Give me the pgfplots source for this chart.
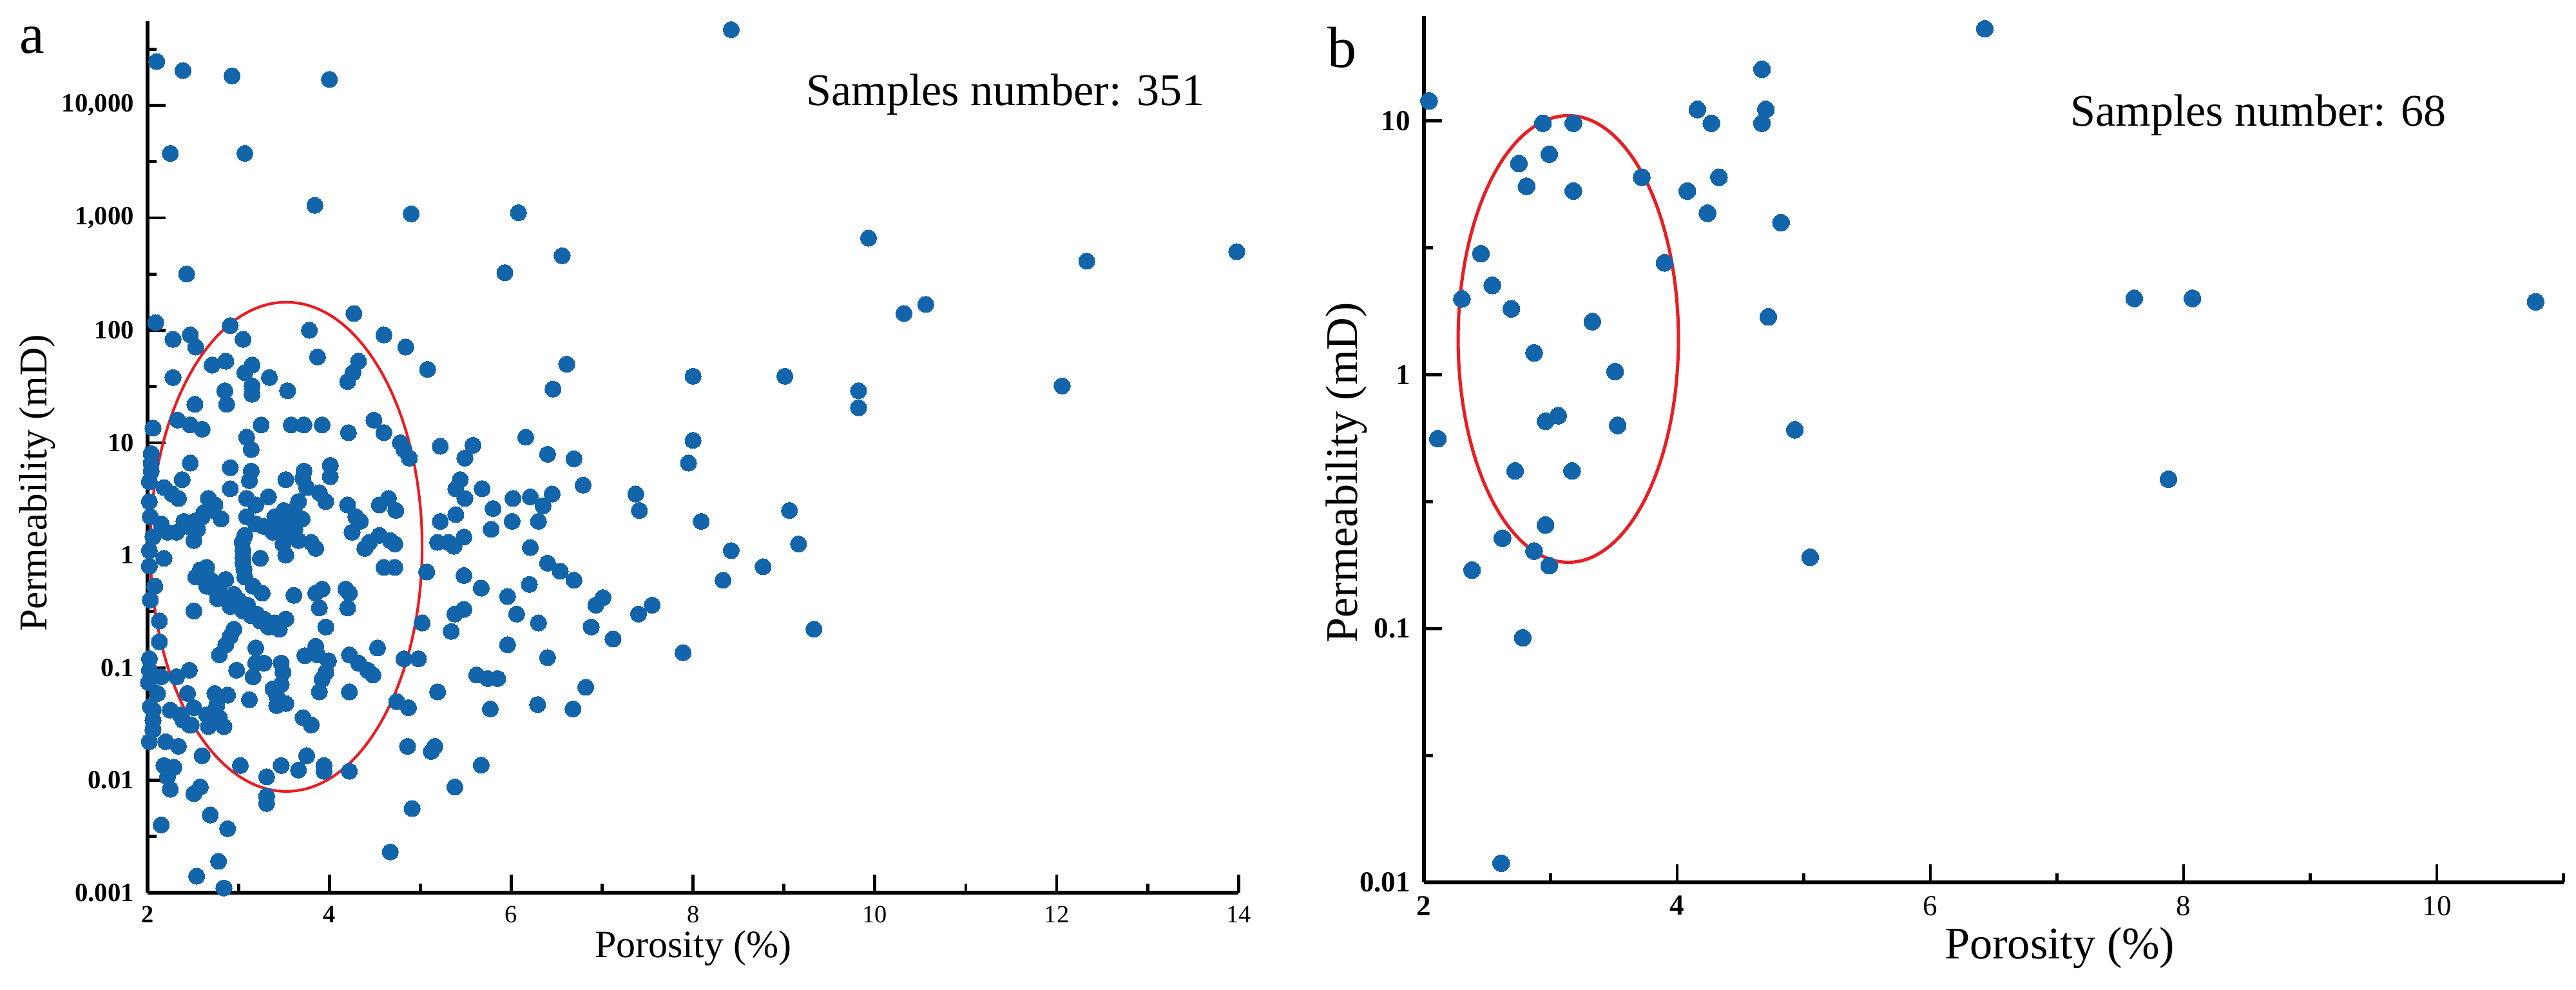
\documentclass[border=0pt]{standalone}
\usepackage{pgfplots}
\pgfplotsset{compat=1.18}
\usepackage{fontspec}
\setmainfont{Liberation Serif}
\usetikzlibrary{calc}

\definecolor{dotblue}{RGB}{18,101,170}
\definecolor{ringred}{RGB}{232,30,37}

\begin{document}
\begin{tikzpicture}
\path[use as bounding box] (0,0) rectangle (666.33pt,256pt);

% ---- panel a ----
\begin{axis}[
  scale only axis,
  ymode=log,
  axis lines*=left,
  tick align=inside,
  axis line style={line width=0.9pt,black},
  every tick/.style={line width=0.8pt,black},
  major tick length=4.6pt,
  minor tick length=2.3pt,
  clip=false,
  at={(38.17pt,25.17pt)}, anchor=south west,
  width=282.2pt, height=225.3pt,
  xmin=2, xmax=14, ymin=0.001, ymax=55800,
  xtick={2,4,...,14},
  xticklabels={\textbf{2},\textbf{4},6,8,10,12,14},
  minor xtick={3,5,...,13},
  ytick={0.001,0.01,0.1,1,10,100,1000,10000},
  yticklabels={0.001,0.01,0.1,1,10,100,{1,000},{10,000}},
  minor ytick={0.00316,0.0316,0.316,3.16,31.6,316,3162,31623},
  xticklabel style={font=\fontsize{6.4}{7}\selectfont},
  yticklabel style={font=\fontsize{6.8}{7}\selectfont\bfseries},
  xlabel={Porosity (\%)},
  ylabel={Permeability (mD)},
  xlabel style={at={(rel axis cs:0.5,-0.0636)},anchor=center,font=\fontsize{10}{12}\selectfont},
  ylabel style={at={(rel axis cs:-0.101,0.47)},anchor=center,font=\fontsize{10.2}{12}\selectfont},
]
\addplot[only marks, color=dotblue, mark=*, mark size=2.1pt, mark options={draw=dotblue,fill=dotblue,line width=0pt}] table {
x y
2.10 24500
2.39 20400
2.93 18300
4.00 17000
2.25 3740
3.07 3740
3.84 1290
4.90 1085
2.43 316
2.09 117
4.27 141
2.91 110
3.78 100
2.28 83
2.47 91
2.53 71
3.05 83
4.60 91
4.84 71
5.08 45
3.87 58
4.32 53
4.26 42
4.20 35
2.71 49
2.86 53
2.28 38
3.07 42
3.15 49
3.34 38
3.15 32
3.15 27
3.54 29
2.85 29
2.87 22
2.52 22
8.42 47000
6.08 1110
6.56 460
5.93 325
6.61 50
6.46 30
8.00 39
9.01 39
8.00 10.5
7.95 6.6
6.16 11.2
5.58 9.5
5.49 7.3
6.40 7.9
6.69 7.2
5.44 4.7
5.39 3.9
5.49 3.2
5.68 3.9
6.02 3.2
6.21 3.3
6.45 3.5
6.79 4.2
6.35 2.75
6.30 2.0
5.80 2.6
6.01 2.0
5.78 1.7
5.48 1.45
5.39 2.3
7.37 3.5
7.41 2.5
8.09 2.0
9.06 2.5
9.16 1.26
6.21 1.17
8.42 1.1
5.37 1.2
6.40 0.85
6.54 0.72
6.69 0.6
5.48 0.66
5.67 0.51
6.20 0.55
5.96 0.43
5.38 0.30
5.48 0.33
6.06 0.30
6.30 0.25
5.34 0.21
5.96 0.16
6.40 0.123
6.88 0.23
6.93 0.36
7.01 0.42
7.12 0.18
7.40 0.30
7.55 0.36
7.89 0.136
8.33 0.6
8.77 0.79
5.62 0.086
5.74 0.080
5.85 0.080
5.77 0.043
6.29 0.047
6.68 0.043
6.82 0.067
5.67 0.0136
5.38 0.0087
9.93 660
12.33 412
13.98 500
10.32 141
10.56 170
9.82 29
9.82 20.5
12.06 32
9.33 0.22
2.06 13.5
2.33 15.9
2.47 14.4
2.60 13.2
3.25 14.4
3.58 14.4
3.72 14.4
3.92 14.4
4.21 12.3
4.49 15.9
4.60 12.3
4.78 10
4.82 8.7
4.88 7.3
5.22 9.3
3.09 11.2
3.14 8.7
2.47 6.6
2.91 6.0
3.14 5.6
3.72 5.6
4.01 6.3
4.01 5.0
3.52 4.7
2.38 4.7
2.04 8.0
2.04 6.6
2.04 5.6
2.18 4.0
2.27 3.5
2.34 3.2
2.91 3.9
3.12 4.6
3.33 3.3
3.71 4.8
3.75 4.0
3.89 3.6
3.96 3.0
2.67 3.2
2.74 2.8
4.20 2.8
4.29 2.2
4.34 2.0
4.55 2.8
4.65 3.2
4.73 2.5
5.22 2.0
4.25 1.6
2.15 1.9
2.22 1.6
2.32 1.6
2.51 2.0
2.60 2.2
2.72 2.5
2.81 2.1
2.51 1.35
2.44 1.8
3.09 3.2
3.19 2.8
3.09 2.2
3.19 1.9
3.07 1.5
3.28 1.8
3.38 1.7
3.47 1.8
3.59 2.0
3.61 2.5
3.66 3.0
3.56 1.5
3.66 1.35
3.80 1.3
4.44 1.3
4.55 1.5
4.67 1.35
5.19 1.3
5.31 1.3
2.06 1.46
2.18 0.94
2.58 0.74
2.53 0.64
2.65 0.78
2.65 0.53
2.74 0.50
2.86 0.61
3.05 1.1
3.05 0.85
3.07 0.64
3.16 0.53
3.24 0.94
3.26 0.46
3.38 1.6
3.49 1.26
3.52 1.0
3.61 0.44
3.85 1.15
3.85 0.46
3.92 0.50
3.89 0.34
3.52 0.27
4.18 0.50
4.22 0.46
4.20 0.34
3.96 0.23
4.39 1.15
4.72 1.26
4.60 0.78
4.72 0.78
5.07 0.71
5.02 0.25
2.51 0.32
2.08 0.53
2.13 0.26
2.13 0.17
2.86 0.41
2.77 0.41
2.91 0.35
3.05 0.32
3.14 0.29
3.24 0.26
3.33 0.23
2.95 0.22
2.91 0.19
2.86 0.16
2.79 0.13
3.19 0.15
3.19 0.11
3.28 0.11
3.16 0.083
2.98 0.095
3.47 0.11
3.49 0.091
3.47 0.071
3.38 0.065
3.42 0.056
3.42 0.046
3.52 0.048
3.12 0.052
3.73 0.128
3.85 0.155
3.87 0.13
3.99 0.115
3.96 0.091
3.92 0.079
3.89 0.061
4.22 0.061
4.22 0.13
4.32 0.11
4.42 0.095
4.48 0.086
4.53 0.15
4.82 0.12
4.98 0.12
4.74 0.05
4.87 0.044
5.19 0.061
3.71 0.036
3.80 0.031
2.01 0.074
2.15 0.083
2.32 0.083
2.46 0.095
2.44 0.059
2.51 0.044
2.39 0.034
2.48 0.031
2.74 0.059
2.88 0.057
2.76 0.046
2.67 0.030
2.84 0.030
2.79 0.036
2.06 0.034
2.06 0.028
2.20 0.022
2.34 0.020
2.60 0.0165
2.18 0.0135
2.29 0.013
2.22 0.0107
2.25 0.0083
2.51 0.0076
2.58 0.0087
3.02 0.0135
3.31 0.0107
3.31 0.0072
3.31 0.0062
3.47 0.0135
3.66 0.0123
3.75 0.0165
3.94 0.0135
3.94 0.012
4.22 0.012
4.86 0.020
5.12 0.018
5.16 0.020
4.91 0.0056
4.67 0.0023
2.15 0.004
2.69 0.0049
2.88 0.0037
2.78 0.0019
2.54 0.0014
2.84 0.0011
2.11 0.059
2.06 0.042
2.25 0.042
2.36 0.038
2.46 0.031
2.65 0.038
2.02 4.5
2.02 3.0
2.03 2.2
2.02 1.1
2.02 0.8
2.03 0.4
2.02 0.12
2.03 0.045
2.02 0.022
2.02 0.095
2.70 0.60
2.80 0.55
2.95 0.45
3.00 0.40
3.10 0.36
3.20 0.30
3.28 0.27
3.40 0.25
3.45 0.22
3.04 1.3
3.05 0.95
3.06 0.75
2.40 2.0
2.55 1.7
2.62 2.4
2.68 2.6
3.40 2.2
3.50 2.5
3.62 1.7
3.70 2.1
};
\draw[ringred, line width=0.7pt] let \p1=(axis cs:3.525,1.189), \p2=(axis cs:5.02,177.8)
  in (\p1) ellipse [x radius=\x2-\x1, y radius=\y2-\y1];
\end{axis}

% ---- panel b ----
\begin{axis}[
  scale only axis,
  ymode=log,
  axis lines*=left,
  tick align=inside,
  axis line style={line width=0.9pt,black},
  every tick/.style={line width=0.8pt,black},
  major tick length=4.6pt,
  minor tick length=2.3pt,
  clip=false,
  at={(368.33pt,27.83pt)}, anchor=south west,
  width=294.75pt, height=224pt,
  xmin=2, xmax=11, ymin=0.01, ymax=25.9,
  xtick={2,4,...,10},
  xticklabels={\textbf{2},\textbf{4},6,8,10},
  minor xtick={3,5,...,11},
  ytick={0.01,0.1,1,10},
  yticklabels={0.01,0.1,1,10},
  minor ytick={0.0316,0.316,3.16},
  xticklabel style={font=\fontsize{7.5}{8}\selectfont},
  yticklabel style={font=\fontsize{7.5}{8}\selectfont\bfseries},
  xlabel={Porosity (\%)},
  ylabel={Permeability (mD)},
  xlabel style={at={(rel axis cs:0.558,-0.0759)},anchor=center,font=\fontsize{11.7}{14}\selectfont},
  ylabel style={at={(rel axis cs:-0.0679,0.473)},anchor=center,font=\fontsize{11.7}{14}\selectfont},
]
\addplot[only marks, color=dotblue, mark=*, mark size=2.2pt, mark options={draw=dotblue,fill=dotblue,line width=0pt}] table {
x y
2.04 12.0
6.43 23.1
4.67 16.0
4.16 11.1
4.70 11.1
4.27 9.8
4.67 9.8
2.94 9.8
3.18 9.8
2.99 7.4
2.75 6.8
2.81 5.53
3.18 5.3
3.72 6.0
4.08 5.3
4.33 6.0
4.24 4.33
4.82 3.98
2.45 3.0
3.90 2.76
2.54 2.25
2.30 1.99
2.69 1.82
3.33 1.62
4.72 1.69
2.87 1.22
3.51 1.03
2.96 0.656
3.06 0.69
3.53 0.632
2.11 0.56
4.93 0.607
2.72 0.418
3.17 0.418
2.96 0.256
2.62 0.227
2.87 0.202
2.99 0.177
2.38 0.170
5.05 0.191
2.78 0.092
2.61 0.0119
7.61 2.0
8.07 2.0
7.88 0.388
10.78 1.94
};
\draw[ringred, line width=0.85pt] let \p1=(axis cs:3.14,1.384), \p2=(axis cs:4.01,10.5)
  in (\p1) ellipse [x radius=\x2-\x1, y radius=\y2-\y1];
\end{axis}

% panel letters and sample counts
\node[anchor=base, font=\fontsize{14.5}{16}\selectfont] at (8.3pt,242.3pt) {a};
\node[anchor=base, font=\fontsize{15}{17}\selectfont] at (347.2pt,238.5pt) {b};
\node[anchor=west, font=\fontsize{11.7}{14}\selectfont] at (205pt,231.5pt) {Samples number: 351};
\node[anchor=west, font=\fontsize{11.7}{14}\selectfont] at (532pt,226.3pt) {Samples number: 68};
\end{tikzpicture}
\end{document}
